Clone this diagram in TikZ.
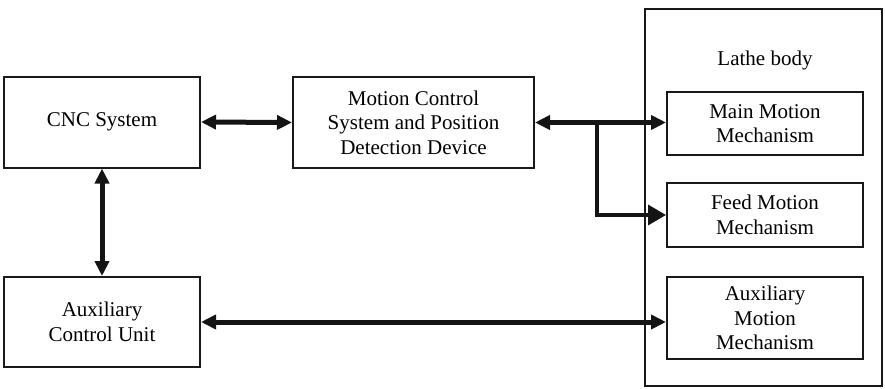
\documentclass[tikz,border=0pt]{standalone}
\usepackage{fontspec}
\setmainfont{Liberation Serif}
\usetikzlibrary{arrows.meta}
\begin{document}
\begin{tikzpicture}[x=1pt,y=-1pt,
  block/.style={draw=black!90, line width=2pt, align=center, inner sep=0pt,
    font=\fontsize{21}{24.5}\selectfont},
  link/.style={line width=5pt, draw=black!92,
    {Triangle[length=15pt,width=14pt]}-{Triangle[length=15pt,width=14pt]}},
  feedlink/.style={line width=3.5pt, draw=black!92, -{Triangle[length=18pt,width=20pt]}}]
  \useasboundingbox (0,0) rectangle (885,388);
  % outer frame of the lathe
  \node[block, minimum width=237pt, minimum height=377pt] (lathe) at (763.5,197.5) {};
  \node[font=\fontsize{21}{24.5}\selectfont] (lathelbl) at (765,60) {Lathe body};
  % controller side
  \node[block, minimum width=196pt, minimum height=91pt] (cnc) at (102,122) {CNC System};
  \node[block, minimum width=241pt, minimum height=91pt] (motion) at (413.5,122.5)
    {Motion Control\\System and Position\\Detection Device};
  \node[block, minimum width=196pt, minimum height=90pt] (auxc) at (102,322)
    {Auxiliary\\Control Unit};
  % mechanisms inside the lathe body
  \node[block, minimum width=196pt, minimum height=63pt] (main) at (765,123.5)
    {Main Motion\\Mechanism};
  \node[block, minimum width=196pt, minimum height=64pt] (feed) at (765,215)
    {Feed Motion\\Mechanism};
  \node[block, minimum width=196pt, minimum height=82pt] (auxm) at (765,318)
    {Auxiliary\\Motion\\Mechanism};
  % connections
  \draw[link] (cnc.east) -- (motion.west);
  \draw[link] (cnc.south) -- (auxc.north);
  \draw[link] (motion.east) -- (motion.east -| main.west);
  \coordinate (branch) at ([xshift=62pt]motion.east);
  \draw[feedlink] (branch) |- (feed.west);
  \draw[link] (auxc.east) -- (auxc.east -| auxm.west);
\end{tikzpicture}
\end{document}
